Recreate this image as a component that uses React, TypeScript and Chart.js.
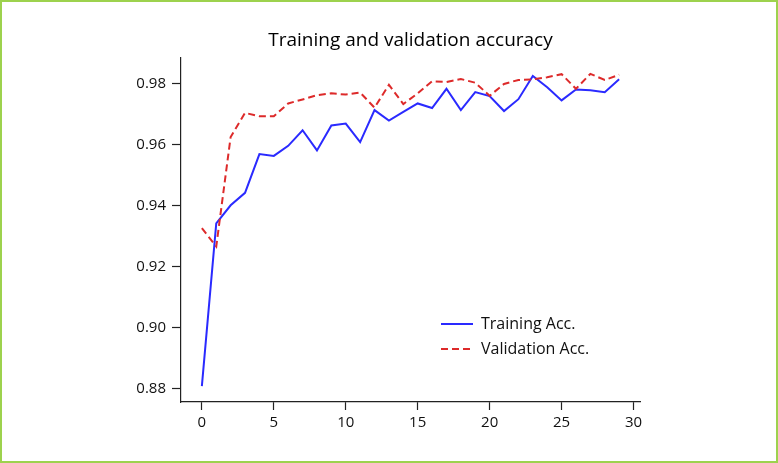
import React, { useEffect, useRef } from "react";
import { Chart, registerables } from "chart.js";

Chart.register(...registerables);

const epochs = [0, 1, 2, 3, 4, 5, 6, 7, 8, 9, 10, 11, 12, 13, 14, 15, 16, 17, 18, 19, 20, 21, 22, 23, 24, 25, 26, 27, 28, 29];
const trainAcc = [0.8807, 0.9341, 0.9400, 0.9441, 0.9568, 0.9562, 0.9595, 0.9646, 0.9580, 0.9662, 0.9668, 0.9607, 0.9712, 0.9678, 0.9706, 0.9734, 0.9719, 0.9782, 0.9712, 0.9771, 0.9758, 0.9709, 0.9748, 0.9824, 0.9787, 0.9744, 0.9780, 0.9777, 0.9771, 0.9813];
const valAcc = [0.9325, 0.9265, 0.9624, 0.9703, 0.9692, 0.9692, 0.9734, 0.9747, 0.9761, 0.9767, 0.9763, 0.9770, 0.9720, 0.9795, 0.9732, 0.9767, 0.9807, 0.9804, 0.9814, 0.9802, 0.9759, 0.9798, 0.9811, 0.9813, 0.9820, 0.9830, 0.9782, 0.9831, 0.9811, 0.9828];
const yTicks = [0.88, 0.9, 0.92, 0.94, 0.96, 0.98];
const xTicks = [0, 5, 10, 15, 20, 25, 30];
const titleText = "Training and validation accuracy";
const seriesNames = ["Training Acc.", "Validation Acc."];

const BLUE = "#2a2aff";
const RED = "#dd2a2a";
const FONT = '"Open Sans", "Noto Sans", sans-serif';

export default function App() {
  const ref = useRef<HTMLCanvasElement | null>(null);

  useEffect(() => {
    const canvas = ref.current;
    if (!canvas) return;

    const overlay = {
      id: "overlay",
      afterDraw(chart: any) {
        const ctx = chart.ctx;
        const area = chart.chartArea;
        ctx.save();
        // title
        ctx.fillStyle = "#000";
        ctx.font = `500 19px ${FONT}`;
        ctx.textAlign = "center";
        ctx.textBaseline = "alphabetic";
        ctx.fillText(titleText, (area.left + area.right) / 2, 46);
        // legend
        const lx0 = 441, lx1 = 473, ly0 = 324, ly1 = 349, tx = 481;
        ctx.lineWidth = 2;
        ctx.strokeStyle = BLUE;
        ctx.setLineDash([]);
        ctx.beginPath();
        ctx.moveTo(lx0, ly0);
        ctx.lineTo(lx1, ly0);
        ctx.stroke();
        ctx.strokeStyle = RED;
        ctx.setLineDash([7, 4]);
        ctx.beginPath();
        ctx.moveTo(lx0, ly1);
        ctx.lineTo(lx1, ly1);
        ctx.stroke();
        ctx.setLineDash([]);
        ctx.font = `16px ${FONT}`;
        ctx.textAlign = "left";
        ctx.textBaseline = "middle";
        ctx.fillStyle = "#111";
        ctx.fillText(seriesNames[0], tx, ly0);
        ctx.fillText(seriesNames[1], tx, ly1);
        ctx.restore();
      },
    };

    const chart = new Chart(canvas, {
      type: "line",
      data: {
        labels: epochs,
        datasets: [
          {
            label: seriesNames[0],
            data: epochs.map((e, i) => ({ x: e, y: trainAcc[i] })),
            borderColor: BLUE,
            borderWidth: 2,
            pointRadius: 0,
            tension: 0,
            fill: false,
            order: 1,
          },
          {
            label: seriesNames[1],
            data: epochs.map((e, i) => ({ x: e, y: valAcc[i] })),
            borderColor: RED,
            borderWidth: 2,
            borderDash: [7, 4],
            pointRadius: 0,
            tension: 0,
            fill: false,
            order: 0,
          },
        ],
      },
      options: {
        animation: false,
        responsive: false,
        devicePixelRatio: 1,
        layout: { padding: { top: 58, right: 138, bottom: 0, left: 0 } },
        plugins: {
          legend: { display: false },
          title: { display: false },
          tooltip: { enabled: false },
        },
        scales: {
          x: {
            type: "linear",
            min: -1.45,
            max: 30.45,
            afterFit: (s: any) => {
              s.height = 61;
            },
            afterBuildTicks: (s: any) => {
              s.ticks = xTicks.map((v) => ({ value: v }));
            },
            border: { display: true, color: "#222", width: 1.2 },
            grid: { display: true, drawOnChartArea: false, drawTicks: true, tickLength: 8, tickColor: "#222", tickWidth: 1.2 },
            ticks: { color: "#111", font: { family: FONT, size: 15 }, padding: 4, maxRotation: 0, callback: (v: any) => String(v) },
          },
          y: {
            type: "linear",
            min: 0.8755,
            max: 0.9883,
            afterFit: (s: any) => {
              s.width = 181;
            },
            afterBuildTicks: (s: any) => {
              s.ticks = yTicks.map((v) => ({ value: v }));
            },
            border: { display: true, color: "#222", width: 1.2 },
            grid: { display: true, drawOnChartArea: false, drawTicks: true, tickLength: 9, tickColor: "#222", tickWidth: 1.2 },
            ticks: { color: "#111", font: { family: FONT, size: 15 }, padding: 6, callback: (v: any) => Number(v).toFixed(2) },
          },
        },
      },
      plugins: [overlay],
    });
    return () => chart.destroy();
  }, []);

  return (
    <div style={{ position: "absolute", left: 0, top: 0, width: 778, height: 463, background: "#fff" }}>
      <canvas ref={ref} width={778} height={463} style={{ position: "absolute", left: 0, top: 0, width: 778, height: 463 }} />
      <div
        style={{
          position: "absolute",
          left: 0,
          top: 0,
          width: 778,
          height: 463,
          boxSizing: "border-box",
          border: "2px solid #9dd24e",
          pointerEvents: "none",
        }}
      />
    </div>
  );
}
